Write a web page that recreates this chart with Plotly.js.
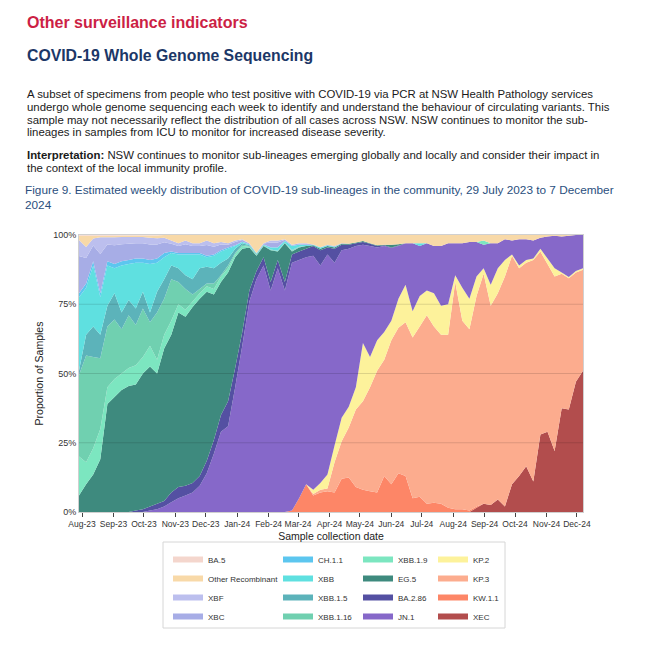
<!DOCTYPE html>
<html><head><meta charset="utf-8">
<script src="https://cdn.plot.ly/plotly-3.0.1.min.js"></script>
<style>html,body{margin:0;padding:0;background:#fff;}#chart{width:650px;height:670px;}</style>
</head><body><div id="chart"></div>
<script>
const weeks = ["2023-07-29","2023-08-05","2023-08-12","2023-08-19","2023-08-26","2023-09-02","2023-09-09","2023-09-16","2023-09-23","2023-09-30",
"2023-10-07","2023-10-14","2023-10-21","2023-10-28","2023-11-04","2023-11-11","2023-11-18","2023-11-25","2023-12-02","2023-12-09",
"2023-12-16","2023-12-23","2023-12-30","2024-01-06","2024-01-13","2024-01-20","2024-01-27","2024-02-03","2024-02-10","2024-02-17",
"2024-02-24","2024-03-02","2024-03-09","2024-03-16","2024-03-23","2024-03-30","2024-04-06","2024-04-13","2024-04-20","2024-04-27",
"2024-05-04","2024-05-11","2024-05-18","2024-05-25","2024-06-01","2024-06-08","2024-06-15","2024-06-22","2024-06-29","2024-07-06",
"2024-07-13","2024-07-20","2024-07-27","2024-08-03","2024-08-10","2024-08-17","2024-08-24","2024-08-31","2024-09-07","2024-09-14",
"2024-09-21","2024-09-28","2024-10-05","2024-10-12","2024-10-19","2024-10-26","2024-11-02","2024-11-09","2024-11-16","2024-11-23",
"2024-11-30","2024-12-07"];

// Percent of samples per week
const XEC   = [0,0,0,0,0,0,0,0,0,0, 0,0,0,0,0,0,0,0,0,0, 0,0,0,0,0,0,0,0,0,0, 0,0,0,0,0,0,0,0,0,0, 0,0,0,0,0,0,0,0,0,0, 0,0,0,0,0,0,1.5,3,2.5,4.5, 2,10,13,16.5,11,28,29,22,37.5,37, 47,51];
const KW11  = [0,0,0,0,0,0,0,0,0,0, 0,0,0,0,0,0,0,0,0,0, 0,0,0,0,0,0,0,0,0,0, 0.5,5,10,6,7,7.5,7,12,12.5,9, 8,7.5,7,13,10,14,13,5,5.5,3, 3.3,3,1.5,1,1,0.5,0.5,0,0,0, 0,0,0,0,0,0,0,0,0,0, 0,0];
const KP3   = [0,0,0,0,0,0,0,0,0,0, 0,0,0,0,0,0,0,0,0,0, 0,0,0,0,0,0,0,0,0,0, 0,0,0,0.5,1,1,11,13.5,18,28, 32,37.5,44,42,52,52.5,55.5,58,61.5,68, 63.7,61,62.5,82,68,65.5,76,83,72,74.5, 83,82.5,75,73.5,80,66,60.5,63,48.5,47.4, 39.5,36.5];
const KP2   = [0,0,0,0,0,0,0,0,0,0, 0,0,0,0,0,0,0,0,0,0, 0,0,0,0,0,0,0,0,0,0, 0,0,0,1.5,2.5,5,6,8.5,7.5,8, 21,11,11,10,7,10.5,13.5,9.5,11,9, 12,10.5,11,2.5,12,11,7,2,7.5,9, 6,0.5,1,1,0.5,1,2,3,0.5,0.4, 0.5,0.5];
const JN1   = [0,0,0,0,0,0,0,0,0,0, 0.5,1,2,3.5,5,6,7,9.5,14,21, 29,31,45,60,76,84,89,80,88,80, 89.5,86,82,84.5,78.5,79.5,66,60.5,57,51, 35.5,40,33.5,31,26.3,19,15,24.5,18,17, 17,21.5,22,11.5,16,20.5,12.5,8.5,15,9, 7.5,5,9.5,7.5,6.5,4,8,11.7,13,14.9, 13,12];
const BA286 = [0,0,0,0,0,0,0,0,0.5,1, 1.5,2,2,3.5,4,3.5,3.5,3.5,4.5,5, 6,9,7,5,4,3,3,3,3,3, 3,3,3,3.5,5.5,2.5,5,2,1.5,1, 1,0.8,0.5,0.3,0.2,0.2,0,0,0,0, 0,0,0,0,0,0,0,0,0,0, 0,0,0,0,0,0,0,0,0,0, 0,0];
const EG5   = [6,10,13.5,19,39,41.5,44,45.5,45.5,49, 50.5,47,55,57,63,61,63.5,64,61,52.5, 48,46.5,40,30,15.5,5.5,4,11.5,3,14, 1,1.5,1,0.3,0.5,0.5,0.5,0.3,0.3,0.3, 0.3,0.2,0.3,0.2,1,0.5,0,0,0,0, 0,0,0,0,0,0,0,0,0,0, 0,0,0,0,0,0,0,0,0,0, 0,0];
const XBB19 = [14,8,9.5,11,6,6.5,6,6.5,7,6, 7.5,5,5,5,3,2.5,2,2,2,2, 2,1.5,1,1,0.3,0.2,0.1,0.1,0.1,0.1, 0.2,0.1,0,0,0,0,0,0,0,0, 0,0,0,0,0,0,0,0,0,0, 0,0,0,0,0,0,0,1.5,0,0, 0,0,0,0,0,0,0,0,0,0, 0,0];
const XBB116= [29.5,38.5,33,25.5,22,21.5,16,19,14.5,17.5, 8.5,17,13,15,8,7.5,2.5,1.5,1,2, 0.5,1,0.5,0.5,0.2,0.2,0.1,0.1,0.1,0.1, 0.2,0.1,0,0,0,0,0,0,0,0, 0,0,0,0,0,0,0,0,0,0, 0,0,0,0,0,0,0,0,0,0, 0,0,0,0,0,0,0,0,0,0, 0,0];
const XBB15 = [1.5,7.5,11,8.5,7.5,9.5,6,5.5,6,6, 3.5,7.5,7,5,5,5,5.5,7.5,6,5.5, 4.5,2.5,1.5,0.5,0.3,0.2,0.1,0.1,0.1,0.1, 0.2,0.1,0,0,0,0,0,0,0,0, 0,0,0,0,0,0,0,0,0,0, 0,0,0,0,0,0,0,0,0,0, 0,0,0,0,0,0,0,0,0,0, 0,0];
const XBB   = [26.5,17,22,13.5,14.5,9,17,13,16.5,10.5, 17.5,10.5,8,4.5,5,7.5,9,5,3.5,4.5, 4,3.5,1,0.5,0.3,0.2,0.2,0.7,1.2,0.5, 1.4,0.7,0.5,0.2,0.5,0.3,0.3,0,0,0, 0,0,0,0,0,0,0,0,1,0, 0,0,0,0,0,0,0,0,0,0, 0,0,0,0,0,0,0,0,0,0, 0,0];
const CH11  = [1.5,1.5,1.5,1.5,1.5,1.5,1.5,1.5,1.5,1.5, 1.5,1.5,1.5,0.5,0.5,0.5,0.5,0.5,0.5,0.5, 0.5,0.5,0.3,0.1,0.1,0.1,0.1,0.1,0.1,0.1, 0.1,0.1,0,0,0,0,0,0,0,0, 0,0,0,0,0,0,0,0,0,0, 0,0,0,0,0,0,0,0,0,0, 0,0,0,0,0,0,0,0,0,0, 0,0];
const XBC   = [13.4,9.2,5.7,14.1,6.1,6.8,6.2,5.8,5.5,5.5, 5.6,5.1,3.9,2.8,2.5,3.2,2.5,2.5,3.9,2.8, 2.1,1,1.2,0.6,0.2,0.1,0.3,1.7,1.7,0.4, 0.3,0.3,0.4,0.1,0.1,0.2,0.2,0.2,0,0, 0,0,0,0,0,0,0,0,0,0, 0,0,0,0,0,0,0,0,0,0, 0,0,0,0,0,0,0,0,0,0, 0,0];
const XBF   = [5.8,4,2.5,6.1,2.6,2.9,2.6,2.5,2.3,2.3, 2.4,2.2,1.6,1.2,1,1.3,1,1,1.6,1.2, 0.9,0.5,0.5,0.3,0.1,0,0.1,0.7,0.7,0.2, 0.1,0.1,0.1,0,0,0,0,0,0,0, 0,0,0,0,0,0,0,0,0,0, 0,0,0,0,0,0,0,0,0,0, 0,0,0,0,0,0,0,0,0,0, 0,0];
const OTHER = [1.5,4,1,0.5,0.5,0.5,0.5,0.5,0.5,0.5, 0.8,1,1,2,3,2,3,3,2,3, 2.5,3,2,1.5,3,6.5,3,2,2,1.5, 3.5,3,3,3.4,4.4,3.5,4,3,3.2,2.7, 2.2,3,3.7,3.5,3.5,3.3,3,3,3,3, 4,4,3,3,3,2.5,2.5,2,3,3, 1.5,2,1.5,1.5,2,1,0.5,0.3,0.5,0.3, 0,0];
const BA5   = [0.3,0.3,0.3,0.3,0.3,0.3,0.2,0.2,0.2,0.2, 0.2,0.2,0,0,0,0,0,0,0,0, 0,0,0,0,0,0,0,0,0,0, 0,0,0,0,0,0,0,0,0,0, 0,0,0,0,0,0,0,0,0,0, 0,0,0,0,0,0,0,0,0,0, 0,0,0,0,0,0,0,0,0,0, 0,0];

// Axis tick labels
const yTickVals = [0, 25, 50, 75, 100];
const yTickText = ["0%", "25%", "50%", "75%", "100%"];

// Legend labels (legend column order)
const legendColumns = [
  ["BA.5","Other Recombinant","XBF","XBC"],
  ["CH.1.1","XBB","XBB.1.5","XBB.1.16"],
  ["XBB.1.9","EG.5","BA.2.86","JN.1"],
  ["KP.2","KP.3","KW.1.1","XEC"]
];
// Stacking order, bottom to top
const stackOrder = [
  ["XEC",XEC],["KW.1.1",KW11],["KP.3",KP3],["KP.2",KP2],["JN.1",JN1],["BA.2.86",BA286],
  ["EG.5",EG5],["XBB.1.9",XBB19],["XBB.1.16",XBB116],["XBB.1.5",XBB15],["XBB",XBB],
  ["CH.1.1",CH11],["XBC",XBC],["XBF",XBF],["Other Recombinant",OTHER],["BA.5",BA5]
];
const colors = {
  "BA.5":"#f4d6cd","Other Recombinant":"#f8d9a8","XBF":"#bcbfee","XBC":"#a7ade6",
  "CH.1.1":"#5cc6ef","XBB":"#5fe0e0","XBB.1.5":"#5cb3ba","XBB.1.16":"#70d0b0",
  "XBB.1.9":"#7ce6c0","EG.5":"#3e8a7e","BA.2.86":"#5450a2","JN.1":"#8668c9",
  "KP.2":"#fdf29b","KP.3":"#fcac8e","KW.1.1":"#fd8667","XEC":"#b24d4d"
};
const legendIds = ["legend","legend2","legend3","legend4"];
const FONT = "Liberation Sans, Arial, sans-serif";

const traces = stackOrder.map(([name, vals]) => {
  let col = 0, rank = 0;
  legendColumns.forEach((c, ci) => { const k = c.indexOf(name); if (k >= 0) { col = ci; rank = k; } });
  return {
    type: "scatter", mode: "none", x: weeks, y: vals, name: name,
    stackgroup: "one", groupnorm: "percent",
    fillcolor: colors[name], line: {width: 0},
    legend: legendIds[col], legendrank: rank + 1,
    hovertemplate: "%{x}<br>" + name + ": %{y:.1f}%<extra></extra>"
  };
});

const W = 650, H = 670, ML = 79, MR = 67, MT = 235, MB = 158;
const PW = W - ML - MR, PH = H - MT - MB;
const px = x => (x - ML) / PW;
const py = y => (H - MB - y) / PH;

function legendAt(xpix) {
  return {x: px(xpix), y: py(545), xanchor: "left", yanchor: "top", orientation: "v",
    traceorder: "normal", bgcolor: "rgba(0,0,0,0)", borderwidth: 0, itemwidth: 30,
    font: {family: FONT, size: 8, color: "#333"}};
}

const textLines = [
  {t: "A subset of specimens from people who test positive with COVID-19 via PCR at NSW Health Pathology services", y: 94},
  {t: "undergo whole genome sequencing each week to identify and understand the behaviour of circulating variants. This", y: 107},
  {t: "sample may not necessarily reflect the distribution of all cases across NSW. NSW continues to monitor the sub-", y: 119.5},
  {t: "lineages in samples from ICU to monitor for increased disease severity.", y: 132},
  {t: "<b>Interpretation:</b> NSW continues to monitor sub-lineages emerging globally and locally and consider their impact in", y: 155},
  {t: "the context of the local immunity profile.", y: 168}
];
const annotations = [
  {text: "<b>Other surveillance indicators</b>", y: 22, size: 16, color: "#cc1f45"},
  {text: "<b>COVID-19 Whole Genome Sequencing</b>", y: 56, size: 15.8, color: "#1c3767"}
].concat(textLines.map(l => ({text: l.t, y: l.y, size: 11.4, color: "#1a1a1a"})))
 .map(a => ({text: a.text, xref: "paper", yref: "paper", x: px(25), y: py(a.y),
   xanchor: "left", yanchor: "middle", showarrow: false,
   font: {family: FONT, size: a.size, color: a.color}}));

const gridShapes = [25, 50, 75].map(v => ({type: "line", xref: "paper", yref: "y", x0: 0, x1: 1, y0: v, y1: v,
  line: {color: "rgba(0,0,0,0.13)", width: 1}, layer: "above"}));
const legendBox = {type: "rect", xref: "paper", yref: "paper", x0: px(163), x1: px(505), y0: py(542), y1: py(628),
  line: {color: "#d6d6d6", width: 1}, fillcolor: "rgba(0,0,0,0)", layer: "below"};

const layout = {
  width: W, height: H, margin: {l: ML, r: MR, t: MT, b: MB},
  paper_bgcolor: "#fff", plot_bgcolor: "#fff",
  font: {family: FONT, color: "#333"},
  title: {text: "Figure 9. Estimated weekly distribution of COVID-19 sub-lineages in the community, 29 July 2023 to 7 December<br>2024",
    xref: "container", yref: "container", x: 25 / W, xanchor: "left", y: 1 - 194 / H, yanchor: "top",
    font: {family: FONT, size: 11.8, color: "#2b4f7e"}},
  xaxis: {type: "date", range: ["2023-07-29", "2024-12-07"], dtick: "M1", tick0: "2023-08-01", tickformat: "%b-%y",
    ticks: "outside", ticklen: 4, tickcolor: "#444", tickfont: {family: FONT, size: 8.5, color: "#333"},
    showgrid: false, showline: true, mirror: true, linecolor: "#d0d0d0", zeroline: false,
    title: {text: "Sample collection date", font: {family: FONT, size: 10.5, color: "#222"}, standoff: 4}},
  yaxis: {range: [0, 100], tickmode: "array", tickvals: yTickVals, ticktext: yTickText, ticks: "",
    tickfont: {family: FONT, size: 9, color: "#333"}, showgrid: false, zeroline: false,
    showline: true, mirror: true, linecolor: "#d0d0d0",
    title: {text: "Proportion of Samples", font: {family: FONT, size: 10.5, color: "#222"}, standoff: 7}},
  legend: legendAt(168), legend2: legendAt(278), legend3: legendAt(358), legend4: legendAt(433),
  annotations: annotations,
  shapes: gridShapes.concat([legendBox]),
  showlegend: true
};

Plotly.newPlot("chart", traces, layout, {displayModeBar: false, staticPlot: true});
</script>
</body></html>
